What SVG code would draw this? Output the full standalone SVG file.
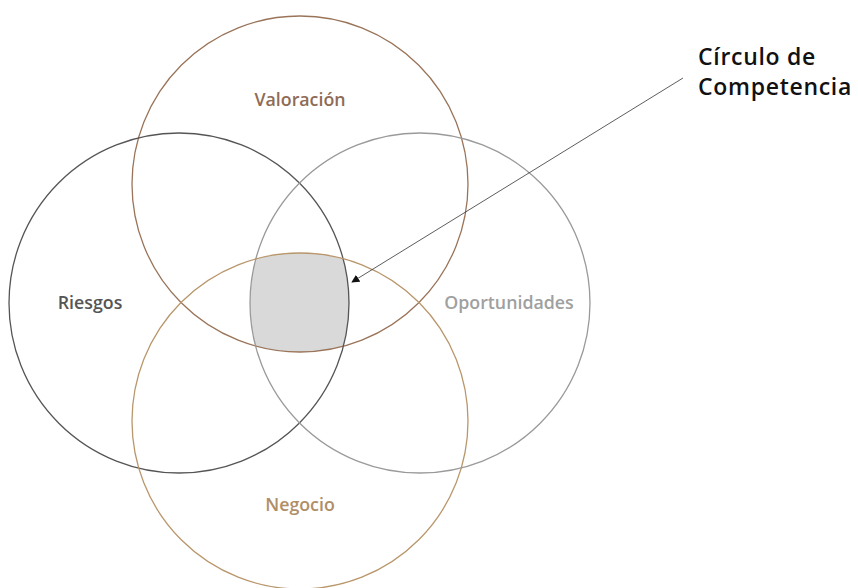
<svg xmlns="http://www.w3.org/2000/svg" width="858" height="588" viewBox="0 0 858 588">
<style>
.c{fill:none;stroke-width:1.3}
.lbl{font-family:"Open Sans","Noto Sans",sans-serif;font-weight:600;font-size:17.8px;text-anchor:middle}
.title{font-family:"Open Sans","Noto Sans",sans-serif;font-weight:600;font-size:23px;letter-spacing:0.7px;fill:#111}
</style>
<defs>
<clipPath id="cV"><circle cx="300" cy="184" r="168"/></clipPath>
<clipPath id="cR"><circle cx="179" cy="303" r="170"/></clipPath>
<clipPath id="cO"><circle cx="420" cy="303" r="170"/></clipPath>
<marker id="ah" viewBox="0 0 10 10" refX="9" refY="5" markerWidth="8" markerHeight="8" markerUnits="userSpaceOnUse" orient="auto"><path d="M0,0 L10,5 L0,10 z" fill="#111"/></marker>
</defs>
<rect width="858" height="588" fill="#fff"/>
<g id="core">
<g clip-path="url(#cV)"><g clip-path="url(#cR)"><g clip-path="url(#cO)"><circle cx="300" cy="421" r="168" fill="#d9d9d9"/></g></g></g>
</g>
<g id="valoracion"><circle class="c" cx="300" cy="184" r="168" stroke="#9a7459"/><text class="lbl" x="300" y="106" fill="#8f6b55">Valoración</text></g>
<g id="riesgos"><circle class="c" cx="179" cy="303" r="170" stroke="#555"/><text class="lbl" x="90" y="309" fill="#555">Riesgos</text></g>
<g id="oportunidades"><circle class="c" cx="420" cy="303" r="170" stroke="#9a9a9a"/><text class="lbl" x="509" y="309" fill="#a0a0a0">Oportunidades</text></g>
<g id="negocio"><circle class="c" cx="300" cy="421" r="168" stroke="#b9976c"/><text class="lbl" x="300" y="511" fill="#b08e66">Negocio</text></g>
<g id="connectors"><line x1="683" y1="78" x2="352" y2="282" stroke="#333" stroke-width="0.8" marker-end="url(#ah)"/></g>
<g id="label"><text class="title" x="698" y="65">Círculo de</text><text class="title" x="698" y="95">Competencia</text></g>
</svg>
